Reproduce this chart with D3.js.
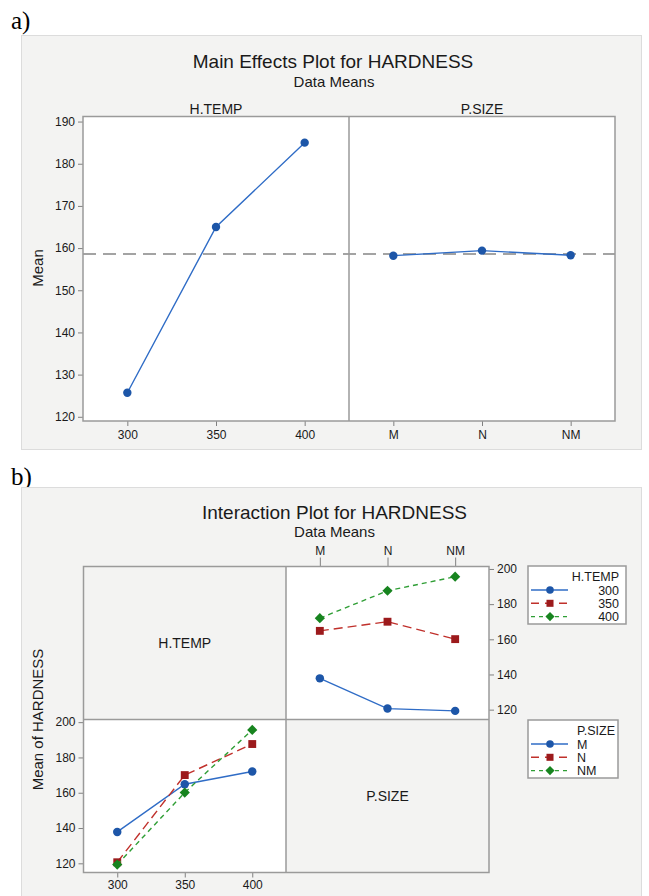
<!DOCTYPE html>
<html>
<head>
<meta charset="utf-8">
<script src="https://cdn.jsdelivr.net/npm/d3@7"></script>
<style>
  html, body { margin: 0; padding: 0; background: #ffffff; }
  svg { display: block; font-family: "Liberation Sans", Arial, sans-serif; }
</style>
</head>
<body>
<script>
// ---------------- DATA ----------------
const hTempLevels = ["300", "350", "400"];
const pSizeLevels = ["M", "N", "NM"];

// Main effects (data means)
const mainHTemp = [125.7, 165.0, 185.0];
const mainPSize = [158.2, 159.4, 158.3];
const grandMean = 158.6;
const mainYTicks = [120, 130, 140, 150, 160, 170, 180, 190];

// Interaction means: rows = H.TEMP, values across P.SIZE (M, N, NM)
const mean300 = [137.8, 120.6, 119.3];
const mean350 = [164.8, 170.0, 160.1];
const mean400 = [172.0, 187.6, 195.6];
const interYTicks = [120, 140, 160, 180, 200];

// ---------------- STYLE ----------------
const seriesStyle = [
  { line: "#2f6cc6", mark: "#1d56a8", dash: null, sym: d3.symbolCircle, size: 56, rot: 0 },
  { line: "#c0302b", mark: "#9c1a1c", dash: "9,5", sym: d3.symbolSquare, size: 62, rot: 0 },
  { line: "#2f9e35", mark: "#17841f", dash: "5,4", sym: d3.symbolSquare, size: 52, rot: 45 }
];
const frameColor = "#9a9a9a";
const panelBg = "#f3f3f2";
const tickColor = "#808080";
const textColor = "#1a1a1a";

const svg = d3.select("body").append("svg")
  .attr("width", 649).attr("height", 896);

function styleAxis(g) {
  g.select(".domain").remove();
  g.selectAll(".tick line").attr("stroke", tickColor).attr("stroke-width", 1);
  g.selectAll(".tick text").attr("fill", textColor).style("font-size", "12px")
    .style("font-family", "'Liberation Sans', Arial, sans-serif");
}

// ---------------- (a) MAIN EFFECTS ----------------
svg.append("text").attr("x", 11).attr("y", 29)
  .style("font-family", "'Liberation Serif', 'Times New Roman', serif")
  .style("font-size", "25px").attr("fill", "#000").text("a)");

svg.append("rect").attr("x", 21.5).attr("y", 35.5).attr("width", 620).attr("height", 414)
  .attr("fill", panelBg).attr("stroke", "#dcdcdc").attr("stroke-width", 1);

svg.append("text").attr("x", 333).attr("y", 68).attr("text-anchor", "middle")
  .style("font-size", "19px").attr("fill", textColor).text("Main Effects Plot for HARDNESS");
svg.append("text").attr("x", 334).attr("y", 87).attr("text-anchor", "middle")
  .style("font-size", "15px").attr("fill", textColor).text("Data Means");

const aTop = 116.5, aBottom = 421, aLeft = 83, aMid = 349, aRight = 615;
const yMain = d3.scaleLinear().domain([119.0, 191.2]).range([aBottom, aTop]);
const xH = d3.scalePoint().domain(hTempLevels).range([aLeft, aMid]).padding(0.5);
const xP = d3.scalePoint().domain(pSizeLevels).range([aMid, aRight]).padding(0.5);

svg.append("rect").attr("x", aLeft).attr("y", aTop).attr("width", aRight - aLeft)
  .attr("height", aBottom - aTop).attr("fill", "#fff");

// panel headers
svg.append("text").attr("x", (aLeft + aMid) / 2).attr("y", 114).attr("text-anchor", "middle")
  .style("font-size", "14px").attr("fill", textColor).text("H.TEMP");
svg.append("text").attr("x", (aMid + aRight) / 2).attr("y", 114).attr("text-anchor", "middle")
  .style("font-size", "14px").attr("fill", textColor).text("P.SIZE");

// grand mean reference line
svg.append("line").attr("x1", aLeft).attr("x2", aRight)
  .attr("y1", yMain(grandMean)).attr("y2", yMain(grandMean))
  .attr("stroke", "#a3a3a3").attr("stroke-width", 2).attr("stroke-dasharray", "13,7");

// axes
svg.append("g").attr("transform", `translate(${aLeft},0)`)
  .call(d3.axisLeft(yMain).tickValues(mainYTicks).tickSize(5).tickPadding(3)).call(styleAxis);
svg.append("g").attr("transform", `translate(0,${aBottom})`)
  .call(d3.axisBottom(xH).tickSize(5).tickPadding(4)).call(styleAxis);
svg.append("g").attr("transform", `translate(0,${aBottom})`)
  .call(d3.axisBottom(xP).tickSize(5).tickPadding(4)).call(styleAxis);

svg.append("text").attr("transform", `translate(43,268) rotate(-90)`)
  .attr("text-anchor", "middle").style("font-size", "15px").attr("fill", textColor).text("Mean");

// lines
const lineH = d3.line().x((d, i) => xH(hTempLevels[i])).y(d => yMain(d));
const lineP = d3.line().x((d, i) => xP(pSizeLevels[i])).y(d => yMain(d));
svg.append("path").attr("d", lineH(mainHTemp)).attr("fill", "none")
  .attr("stroke", seriesStyle[0].line).attr("stroke-width", 1.4);
svg.append("path").attr("d", lineP(mainPSize)).attr("fill", "none")
  .attr("stroke", seriesStyle[0].line).attr("stroke-width", 1.4);
svg.selectAll(".mh").data(mainHTemp).enter().append("circle")
  .attr("cx", (d, i) => xH(hTempLevels[i])).attr("cy", d => yMain(d)).attr("r", 4.2)
  .attr("fill", seriesStyle[0].mark);
svg.selectAll(".mp").data(mainPSize).enter().append("circle")
  .attr("cx", (d, i) => xP(pSizeLevels[i])).attr("cy", d => yMain(d)).attr("r", 4.2)
  .attr("fill", seriesStyle[0].mark);

// frame
svg.append("rect").attr("x", aLeft).attr("y", aTop).attr("width", aRight - aLeft)
  .attr("height", aBottom - aTop).attr("fill", "none").attr("stroke", frameColor).attr("stroke-width", 1.5);
svg.append("line").attr("x1", aMid).attr("x2", aMid).attr("y1", aTop).attr("y2", aBottom)
  .attr("stroke", frameColor).attr("stroke-width", 1.5);

// ---------------- (b) INTERACTION ----------------
svg.append("text").attr("x", 11).attr("y", 485)
  .style("font-family", "'Liberation Serif', 'Times New Roman', serif")
  .style("font-size", "25px").attr("fill", "#000").text("b)");

svg.append("rect").attr("x", 21.5).attr("y", 487.5).attr("width", 620).attr("height", 430)
  .attr("fill", panelBg).attr("stroke", "#dcdcdc").attr("stroke-width", 1);

svg.append("text").attr("x", 334.5).attr("y", 519).attr("text-anchor", "middle")
  .style("font-size", "19px").attr("fill", textColor).text("Interaction Plot for HARDNESS");
svg.append("text").attr("x", 334.5).attr("y", 537).attr("text-anchor", "middle")
  .style("font-size", "15px").attr("fill", textColor).text("Data Means");

const gL = 83.5, gM = 286, gR = 489, gT = 566.5, gC = 719.5, gB = 872.5;
const yTR = d3.scaleLinear().domain([114.4, 201.4]).range([gC, gT]);
const yBL = d3.scaleLinear().domain([114.8, 201.5]).range([gB, gC]);
const xTR = d3.scalePoint().domain(pSizeLevels).range([gM, gR]).padding(0.5);
const xBL = d3.scalePoint().domain(hTempLevels).range([gL, gM]).padding(0.5);

// cells
svg.append("rect").attr("x", gM).attr("y", gT).attr("width", gR - gM).attr("height", gC - gT).attr("fill", "#fff");
svg.append("rect").attr("x", gL).attr("y", gC).attr("width", gM - gL).attr("height", gB - gC).attr("fill", "#fff");

svg.append("text").attr("x", (gL + gM) / 2).attr("y", (gT + gC) / 2 + 5).attr("text-anchor", "middle")
  .style("font-size", "14px").attr("fill", textColor).text("H.TEMP");
svg.append("text").attr("x", (gM + gR) / 2).attr("y", (gC + gB) / 2 + 5).attr("text-anchor", "middle")
  .style("font-size", "14px").attr("fill", textColor).text("P.SIZE");

// axes
svg.append("g").attr("transform", `translate(0,${gT})`)
  .call(d3.axisTop(xTR).tickSize(9).tickPadding(3)).call(styleAxis);
svg.append("g").attr("transform", `translate(${gR},0)`)
  .call(d3.axisRight(yTR).tickValues(interYTicks).tickSize(5).tickPadding(3)).call(styleAxis);
svg.append("g").attr("transform", `translate(${gL},0)`)
  .call(d3.axisLeft(yBL).tickValues(interYTicks).tickSize(5).tickPadding(3)).call(styleAxis);
svg.append("g").attr("transform", `translate(0,${gB})`)
  .call(d3.axisBottom(xBL).tickSize(5).tickPadding(3)).call(styleAxis);

svg.append("text").attr("transform", `translate(43,${(gT + gB) / 2}) rotate(-90)`)
  .attr("text-anchor", "middle").style("font-size", "15px").attr("fill", textColor).text("Mean of HARDNESS");

// top-right: lines by H.TEMP across P.SIZE; bottom-left: lines by P.SIZE across H.TEMP
const byHTemp = [mean300, mean350, mean400];
const byPSize = pSizeLevels.map((p, j) => byHTemp.map(row => row[j]));

function drawSeries(data, xs, levels, ys, st) {
  const ln = d3.line().x((d, i) => xs(levels[i])).y(d => ys(d));
  const p = svg.append("path").attr("d", ln(data)).attr("fill", "none")
    .attr("stroke", st.line).attr("stroke-width", 1.4);
  if (st.dash) p.attr("stroke-dasharray", st.dash);
  svg.append("g").selectAll("path").data(data).enter().append("path")
    .attr("d", d3.symbol().type(st.sym).size(st.size)())
    .attr("transform", (d, i) => `translate(${xs(levels[i])},${ys(d)}) rotate(${st.rot})`)
    .attr("fill", st.mark);
}
byHTemp.forEach((row, k) => drawSeries(row, xTR, pSizeLevels, yTR, seriesStyle[k]));
byPSize.forEach((row, k) => drawSeries(row, xBL, hTempLevels, yBL, seriesStyle[k]));

// grid frame
svg.append("rect").attr("x", gL).attr("y", gT).attr("width", gR - gL).attr("height", gB - gT)
  .attr("fill", "none").attr("stroke", frameColor).attr("stroke-width", 1.5);
svg.append("line").attr("x1", gM).attr("x2", gM).attr("y1", gT).attr("y2", gB)
  .attr("stroke", frameColor).attr("stroke-width", 1.5);
svg.append("line").attr("x1", gL).attr("x2", gR).attr("y1", gC).attr("y2", gC)
  .attr("stroke", frameColor).attr("stroke-width", 1.5);

// legends
function legend(x, y, w, h, title, labels, rightAlign) {
  const g = svg.append("g");
  g.append("rect").attr("x", x).attr("y", y).attr("width", w).attr("height", h)
    .attr("fill", "#fff").attr("stroke", frameColor).attr("stroke-width", 1.5);
  const tx = rightAlign ? x + w - 7 : x + 49;
  const anchor = rightAlign ? "end" : "start";
  g.append("text").attr("x", tx).attr("y", y + 15).attr("text-anchor", anchor)
    .style("font-size", "12.5px").attr("fill", textColor).text(title);
  labels.forEach((lab, i) => {
    const cy = y + 24 + i * 13.3;
    const st = seriesStyle[i];
    const l = g.append("line").attr("x1", x + 3).attr("x2", x + 40).attr("y1", cy).attr("y2", cy)
      .attr("stroke", st.line).attr("stroke-width", 1.4);
    if (st.dash) l.attr("stroke-dasharray", st.dash === "9,5" ? "8,6" : "4,4");
    g.append("path").attr("d", d3.symbol().type(st.sym).size(st.size * 0.8)())
      .attr("transform", `translate(${x + 22},${cy}) rotate(${st.rot})`).attr("fill", st.mark);
    g.append("text").attr("x", tx).attr("y", cy + 4.5).attr("text-anchor", anchor)
      .style("font-size", "12.5px").attr("fill", textColor).text(lab);
  });
}
legend(528, 566, 98, 58, "H.TEMP", hTempLevels, true);
legend(528, 720, 90, 58, "P.SIZE", pSizeLevels, false);
</script>
</body>
</html>
